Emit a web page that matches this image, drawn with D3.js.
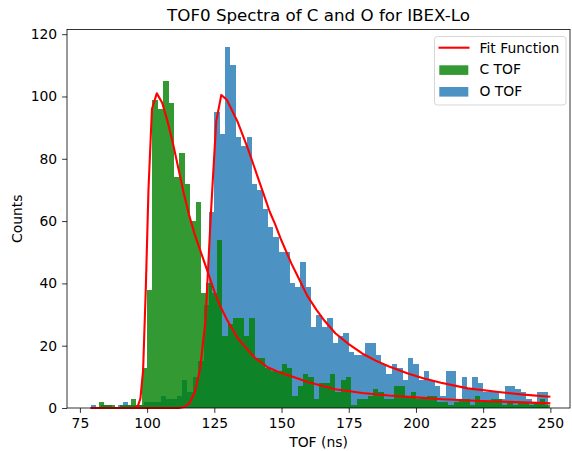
<!DOCTYPE html>
<html>
<head>
<meta charset="utf-8">
<script src="https://cdn.jsdelivr.net/npm/d3@7"></script>
<style>
  body { margin: 0; background: #fff; }
  text { font-family: "DejaVu Sans", sans-serif; }
</style>
</head>
<body>
<div id="chart"></div>
<script>
// histogram bins (ns)
const binWidth = 2;
const oFirstEdge = 79;
const cFirstEdge = 80;

// O TOF counts per bin (starting at 79 ns)
const oCounts = [
  1, 0, 1, 1, 0, 1, 2, 1, 1, 1,
  2, 2, 2, 4, 3, 3, 4, 9, 5, 10,
  15, 33, 63, 95, 88, 116, 110, 87, 84, 87,
  72, 70, 64, 58, 55, 50, 50, 40, 39, 47,
  39, 26, 30, 26, 29, 21, 23, 24, 18, 17,
  17, 21, 21, 17, 14, 11, 14, 13, 9, 16,
  14, 9, 12, 9, 7, 4, 12, 12, 3, 10,
  6, 10, 8, 5, 5, 5, 3, 7, 7, 6,
  5, 3, 2, 5, 5
];

// C TOF counts per bin (starting at 80 ns)
const cCounts = [
  0, 2, 1, 1, 0, 1, 1, 3, 1, 13,
  38, 99, 96, 105, 98, 74, 82, 72, 60, 66,
  37, 40, 37, 54, 23, 27, 29, 29, 23, 29,
  16, 16, 13, 12, 12, 14, 13, 4, 7, 11,
  10, 3, 8, 8, 11, 5, 9, 10, 1, 3,
  3, 4, 6, 5, 3, 3, 7, 7, 4, 5,
  3, 3, 4, 4, 2, 2, 1, 2, 3, 3,
  1, 4, 2, 2, 3, 3, 1, 2, 1, 2,
  2, 1, 2, 3, 1
];

// fit curves: [ns, counts]
const cFit = [
  [79, 0], [95, 0], [96.5, 0.5], [97.5, 3], [98.5, 12], [99.5, 38], [100.5, 70],
  [101.8, 96], [103.6, 101], [105.6, 98], [107.6, 92], [109.6, 85], [111.6, 77],
  [113.6, 69], [115.6, 62], [117.6, 56], [119.6, 51], [121.6, 46], [123.6, 41],
  [125.6, 36], [127.6, 32], [129.6, 28.5], [131.6, 25.5], [133.6, 22.5],
  [135.6, 20.5], [137.6, 18.5], [140, 16.2], [145, 13], [150, 11.2], [155, 9.8],
  [160, 8.3], [170, 6], [180, 4.8], [190, 4], [200, 3.4], [210, 2.8], [220, 2.4],
  [230, 2.1], [240, 1.8], [250, 1.5]
];
const oFit = [
  [79, 0], [111.7, 0], [113.7, 0.3], [115.7, 1.5], [117.7, 5], [119.7, 12.5],
  [121.7, 28], [123.7, 62], [125.7, 92], [127.6, 100.5], [129.6, 99], [131.6, 95.5],
  [133.6, 92], [135.6, 87.5], [137.6, 83], [139.6, 78], [141.6, 73], [143.6, 68],
  [145.6, 63], [147.6, 59], [149.6, 54.5], [151.6, 50.5], [153.6, 46.5],
  [155.6, 43], [157.6, 39.5], [159.6, 36], [163, 31.5], [166, 28], [170, 24],
  [175, 20.5], [180, 17.5], [185, 15.2], [190, 13.3], [197, 11.1], [203, 9.5],
  [209.3, 8.1], [219.3, 6.3], [230, 5.2], [240, 4.3], [250, 3.6]
];

const xTicks = [75, 100, 125, 150, 175, 200, 225, 250];
const yTicks = [0, 20, 40, 60, 80, 100, 120];
const legendLabels = ["Fit Function", "C TOF", "O TOF"];

// set the dimensions and margins of the graph
const W = 572, H = 451;
const margin = { top: 29.5, right: 2, bottom: 43, left: 67 },
  width = W - margin.left - margin.right,
  height = H - margin.top - margin.bottom;

const svg = d3.select("#chart")
  .append("svg")
  .attr("width", W)
  .attr("height", H)
  .append("g")
  .attr("transform", `translate(${margin.left}, ${margin.top})`);

const x = d3.scaleLinear().domain([70.2, 257.3]).range([0, width]);
const y = d3.scaleLinear().domain([0, 121.5]).range([height, 0]);

const blue = "#1f77b4", green = "#008000";

// O bars first, C on top
function drawHist(counts, firstEdge, color) {
  svg.append("g")
    .attr("shape-rendering", "crispEdges")
    .selectAll("rect")
    .data(counts.map((v, i) => ({ x0: firstEdge + i * binWidth, v: v })))
    .join("rect")
    .attr("x", d => x(d.x0))
    .attr("width", d => x(d.x0 + binWidth) - x(d.x0))
    .attr("y", d => y(d.v))
    .attr("height", d => y(0) - y(d.v))
    .attr("fill", color)
    .attr("fill-opacity", 0.8);
}
drawHist(oCounts, oFirstEdge, blue);
drawHist(cCounts, cFirstEdge, green);

// fit lines
const line = d3.line().x(d => x(d[0])).y(d => y(d[1]));
[cFit, oFit].forEach(f => {
  svg.append("path")
    .datum(f)
    .attr("d", line)
    .attr("fill", "none")
    .attr("stroke", "red")
    .attr("stroke-width", 2.1)
    .attr("stroke-linejoin", "round");
});

// axes
const fs = "13.9px";
const xAxis = svg.append("g")
  .attr("transform", `translate(0, ${height})`)
  .call(d3.axisBottom(x).tickValues(xTicks).tickSize(4.9).tickPadding(4.9));
const yAxis = svg.append("g")
  .call(d3.axisLeft(y).tickValues(yTicks).tickSize(4.9).tickPadding(4.9));
[xAxis, yAxis].forEach(a => {
  a.select(".domain").remove();
  a.selectAll("line").attr("stroke", "#000").attr("stroke-width", 0.8);
  a.selectAll("text").attr("fill", "#000").style("font-size", fs)
    .style("font-family", "DejaVu Sans");
});

// spines
svg.append("rect")
  .attr("x", 0).attr("y", 0)
  .attr("width", width).attr("height", height)
  .attr("fill", "none")
  .attr("stroke", "#000")
  .attr("stroke-width", 0.8);

// labels
svg.append("text")
  .attr("x", width / 2)
  .attr("y", -8.3)
  .attr("text-anchor", "middle")
  .style("font-size", "16.7px")
  .text("TOF0 Spectra of C and O for IBEX-Lo");

svg.append("text")
  .attr("x", width / 2)
  .attr("y", height + 39)
  .attr("text-anchor", "middle")
  .style("font-size", fs)
  .text("TOF (ns)");

svg.append("text")
  .attr("transform", `translate(${-45}, ${height / 2}) rotate(-90)`)
  .attr("text-anchor", "middle")
  .style("font-size", fs)
  .text("Counts");

// legend
const lg = svg.append("g")
  .attr("transform", `translate(${434.5 - margin.left}, ${36.5 - margin.top})`);
lg.append("rect")
  .attr("width", 131.5).attr("height", 68.5)
  .attr("rx", 2.8)
  .attr("fill", "#fff").attr("fill-opacity", 0.8)
  .attr("stroke", "#cccccc").attr("stroke-width", 0.8);
lg.append("line")
  .attr("x1", 4).attr("x2", 35)
  .attr("y1", 11.2).attr("y2", 11.2)
  .attr("stroke", "red").attr("stroke-width", 2.1);
[green, blue].forEach((c, i) => {
  lg.append("rect")
    .attr("x", 4.8).attr("y", 28.8 + i * 21.7)
    .attr("width", 29).attr("height", 9.6)
    .attr("fill", c).attr("fill-opacity", 0.8);
});
legendLabels.forEach((t, i) => {
  lg.append("text")
    .attr("x", 45)
    .attr("y", 11.2 + i * 21.7)
    .attr("dy", "0.35em")
    .style("font-size", fs)
    .text(t);
});
</script>
</body>
</html>
